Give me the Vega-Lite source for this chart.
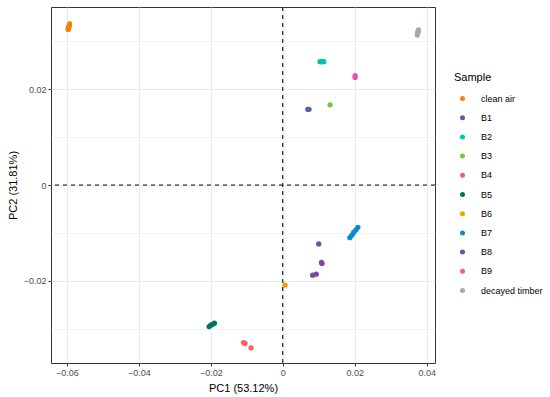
{
  "$schema": "https://vega.github.io/schema/vega-lite/v6.json",
  "width": 384,
  "height": 356,
  "autosize": {"type": "none"},
  "padding": {"left": 51, "top": 7, "right": 115, "bottom": 34},
  "background": "white",
  "config": {
    "view": {"stroke": "#333333", "strokeWidth": 1},
    "font": "Liberation Sans",
    "axis": {
      "domain": false,
      "gridColor": "#EBEBEB",
      "tickColor": "#333333",
      "tickSize": 3,
      "labelColor": "#4D4D4D",
      "labelFont": "Liberation Sans",
      "labelFontSize": 9,
      "labelPadding": 2,
      "titleFont": "Liberation Sans",
      "titleFontSize": 11,
      "titleFontWeight": "normal",
      "titleColor": "#000000"
    },
    "legend": {
      "titleFont": "Liberation Sans",
      "labelFont": "Liberation Sans"
    }
  },
  "data": {
    "values": [
      {"pc1": -0.05922, "pc2": 0.0336, "sample": "clean air"},
      {"pc1": -0.0593, "pc2": 0.0334, "sample": "clean air"},
      {"pc1": -0.05938, "pc2": 0.0332, "sample": "clean air"},
      {"pc1": -0.05945, "pc2": 0.0330, "sample": "clean air"},
      {"pc1": -0.05952, "pc2": 0.0328, "sample": "clean air"},
      {"pc1": -0.05958, "pc2": 0.0326, "sample": "clean air"},
      {"pc1": -0.05964, "pc2": 0.03246, "sample": "clean air"},
      {"pc1": 0.00697, "pc2": 0.0158, "sample": "B1"},
      {"pc1": 0.0073, "pc2": 0.0158, "sample": "B1"},
      {"pc1": 0.01036, "pc2": 0.02575, "sample": "B2"},
      {"pc1": 0.01075, "pc2": 0.02575, "sample": "B2"},
      {"pc1": 0.01105, "pc2": 0.02575, "sample": "B2"},
      {"pc1": 0.01139, "pc2": 0.02575, "sample": "B2"},
      {"pc1": 0.01314, "pc2": 0.01673, "sample": "B3"},
      {"pc1": 0.0201, "pc2": 0.02281, "sample": "B4"},
      {"pc1": 0.0201, "pc2": 0.02246, "sample": "B4"},
      {"pc1": -0.02047, "pc2": -0.02952, "sample": "B5"},
      {"pc1": -0.02, "pc2": -0.02925, "sample": "B5"},
      {"pc1": -0.0195, "pc2": -0.02905, "sample": "B5"},
      {"pc1": -0.019, "pc2": -0.02883, "sample": "B5"},
      {"pc1": 0.00064, "pc2": -0.0209, "sample": "B6"},
      {"pc1": 0.01864, "pc2": -0.01098, "sample": "B7"},
      {"pc1": 0.0192, "pc2": -0.01045, "sample": "B7"},
      {"pc1": 0.0197, "pc2": -0.0099, "sample": "B7"},
      {"pc1": 0.0203, "pc2": -0.0094, "sample": "B7"},
      {"pc1": 0.02086, "pc2": -0.00883, "sample": "B7"},
      {"pc1": 0.0100, "pc2": -0.01229, "sample": "B8"},
      {"pc1": 0.01075, "pc2": -0.01615, "sample": "B8"},
      {"pc1": 0.0109, "pc2": -0.01635, "sample": "B8"},
      {"pc1": 0.0083, "pc2": -0.0188, "sample": "B8"},
      {"pc1": 0.0093, "pc2": -0.0186, "sample": "B8"},
      {"pc1": -0.01047, "pc2": -0.03306, "sample": "B9"},
      {"pc1": -0.0109, "pc2": -0.0329, "sample": "B9"},
      {"pc1": -0.0088, "pc2": -0.03396, "sample": "B9"},
      {"pc1": 0.03772, "pc2": 0.03235, "sample": "decayed timber"},
      {"pc1": 0.03762, "pc2": 0.0321, "sample": "decayed timber"},
      {"pc1": 0.03752, "pc2": 0.03183, "sample": "decayed timber"},
      {"pc1": 0.03745, "pc2": 0.03157, "sample": "decayed timber"},
      {"pc1": 0.03739, "pc2": 0.03131, "sample": "decayed timber"}
    ]
  },
  "layer": [
    {
      "data": {"values": [{"v": 0}]},
      "mark": {"type": "rule", "color": "black", "strokeDash": [4, 4], "strokeWidth": 1},
      "encoding": {"x": {"field": "v", "type": "quantitative"}}
    },
    {
      "data": {"values": [{"v": 0}]},
      "mark": {"type": "rule", "color": "black", "strokeDash": [4, 4], "strokeWidth": 1},
      "encoding": {"y": {"field": "v", "type": "quantitative"}}
    },
    {
      "mark": {"type": "point", "filled": true, "opacity": 1, "size": 28},
      "encoding": {
        "x": {
          "field": "pc1",
          "type": "quantitative",
          "title": "PC1 (53.12%)",
          "scale": {"domain": [-0.0644, 0.0423], "nice": false, "zero": false},
          "axis": {
            "values": [-0.06, -0.05, -0.04, -0.03, -0.02, -0.01, 0, 0.01, 0.02, 0.03, 0.04],
            "labelExpr": "abs(datum.value*50 - round(datum.value*50)) < 0.01 ? format(datum.value, '.2~f') : ''",
            "tickOpacity": {"condition": {"test": "abs(datum.value*50 - round(datum.value*50)) < 0.01", "value": 1}, "value": 0},
            "gridWidth": {"condition": {"test": "abs(datum.value*50 - round(datum.value*50)) < 0.01", "value": 1}, "value": 0.5},
            "titlePadding": 5
          }
        },
        "y": {
          "field": "pc2",
          "type": "quantitative",
          "title": "PC2 (31.81%)",
          "scale": {"domain": [-0.03713, 0.03715], "nice": false, "zero": false},
          "axis": {
            "values": [-0.03, -0.02, -0.01, 0, 0.01, 0.02, 0.03],
            "labelExpr": "abs(datum.value*50 - round(datum.value*50)) < 0.01 ? format(datum.value, '.2~f') : ''",
            "tickOpacity": {"condition": {"test": "abs(datum.value*50 - round(datum.value*50)) < 0.01", "value": 1}, "value": 0},
            "gridWidth": {"condition": {"test": "abs(datum.value*50 - round(datum.value*50)) < 0.01", "value": 1}, "value": 0.5},
            "titlePadding": 5
          }
        },
        "color": {
          "field": "sample",
          "type": "nominal",
          "title": "Sample",
          "scale": {
            "domain": ["clean air", "B1", "B2", "B3", "B4", "B5", "B6", "B7", "B8", "B9", "decayed timber"],
            "range": ["#F8820D", "#5061B5", "#00C4AA", "#77C93A", "#EB52B0", "#00735F", "#F0A202", "#0B8BCF", "#7B48A6", "#FF6060", "#A5AE9A"]
          },
          "legend": {
            "orient": "none",
            "legendX": 403,
            "legendY": 65,
            "padding": 0,
            "titleFontSize": 11,
            "titleFontWeight": "normal",
            "titleColor": "#000000",
            "titlePadding": 11,
            "labelFontSize": 9,
            "labelColor": "#000000",
            "symbolType": "circle",
            "symbolSize": 25,
            "symbolStrokeWidth": 0,
            "symbolOffset": 4,
            "labelOffset": 14,
            "rowPadding": 9.2
          }
        }
      }
    }
  ]
}
